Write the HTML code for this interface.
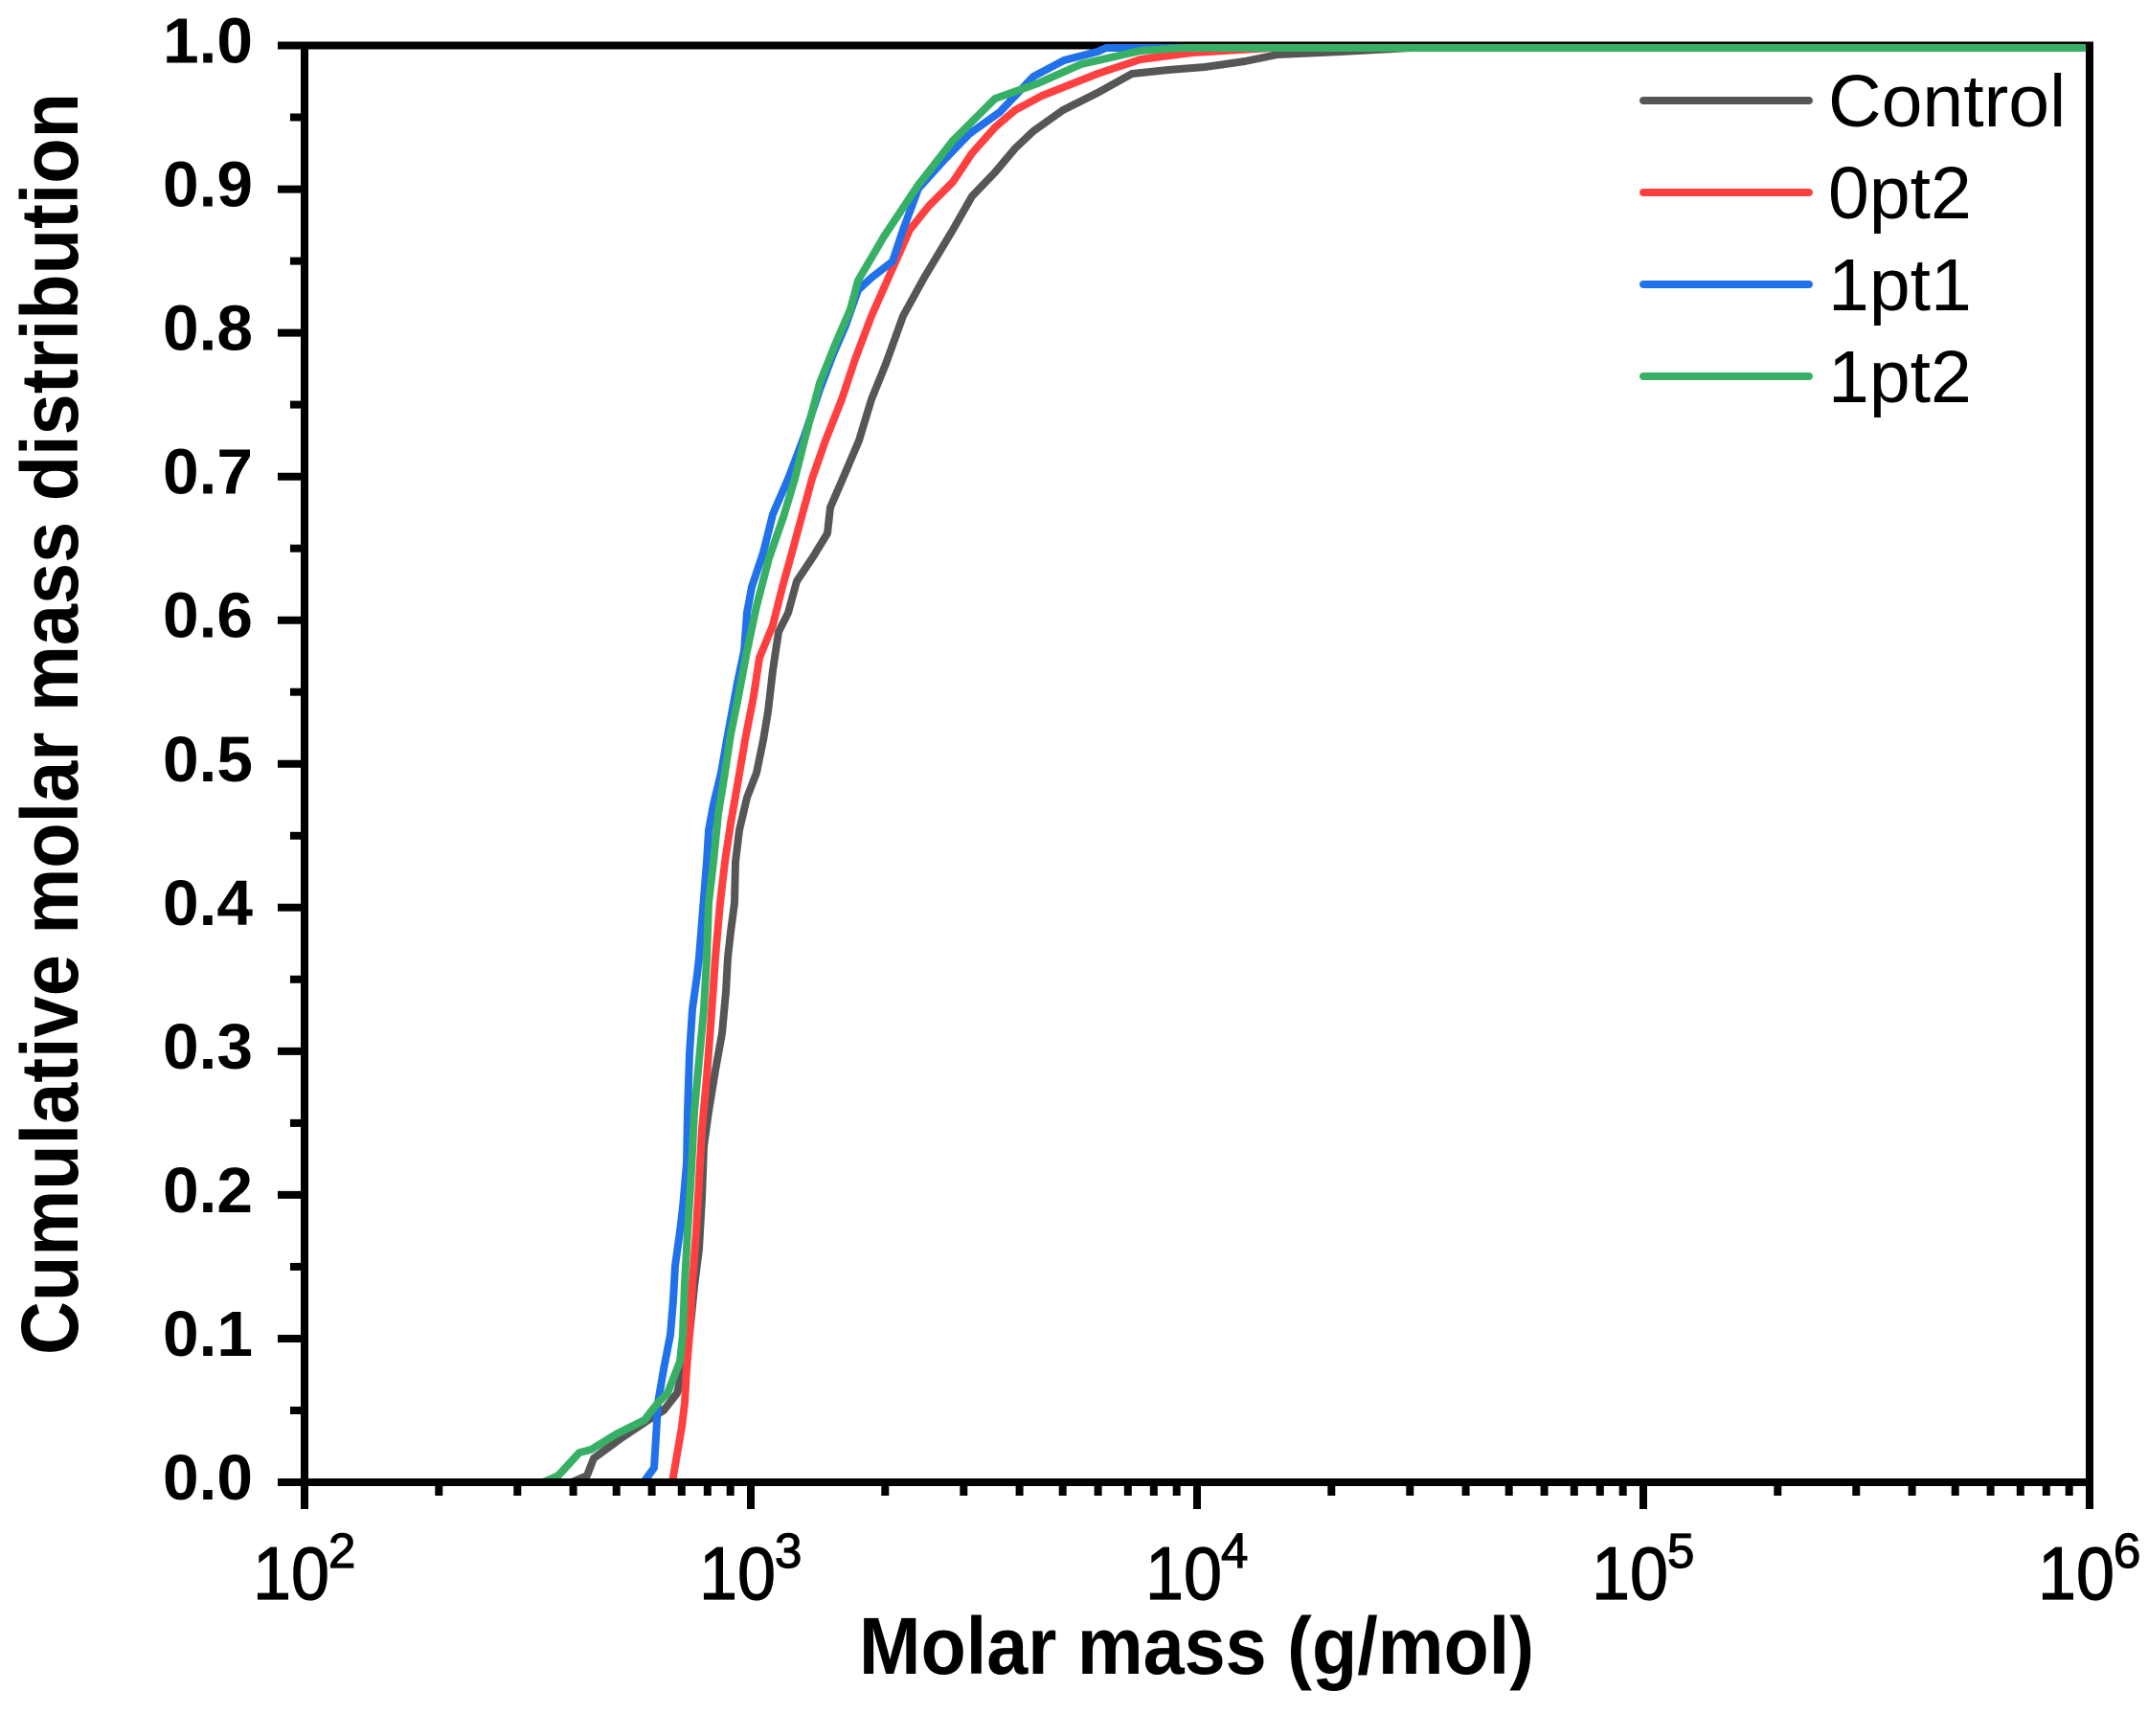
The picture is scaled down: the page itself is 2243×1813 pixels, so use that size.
<!DOCTYPE html>
<html>
<head>
<meta charset="utf-8">
<style>
html,body{margin:0;padding:0;background:#fff;}
svg{display:block;}
</style>
</head>
<body>
<svg width="2243" height="1813" viewBox="0 0 2243 1813" xmlns="http://www.w3.org/2000/svg">
<rect width="2243" height="1813" fill="#fff"/>

<!-- top axis line (under data) -->
<line x1="290" y1="47.5" x2="2186" y2="47.5" stroke="#000" stroke-width="8"/>

<!-- data -->
<g fill="none" stroke-width="8" stroke-linejoin="round" stroke-linecap="butt">
<polyline stroke="#565656" points="597,1548 613,1541 620,1523 650,1501 677,1483 693,1473 707,1455 713,1430 720,1394 725,1344 730,1304 733,1251 735,1197 740,1161 747,1118 754,1079 758,1036 760,1000 763,973 767,943 768,900 772,867 780,833 790,807 797,773 802,743 807,700 813,660 823,640 832,607 850,580 864,557 867,530 880,500 897,460 910,417 925,380 943,330 965,290 995,240 1015,205 1039,180 1060,155 1079,137 1110,115 1146,97 1182,77 1220,73 1258,70 1300,64 1334,57 1400,54 1473,50 2182,50"/>
<polyline stroke="#ff4040" points="702,1548 707,1519 712,1490 715,1465 717,1430 720,1394 723,1340 727,1286 730,1233 733,1179 738,1125 742,1072 745,1030 747,1000 752,943 757,900 763,860 770,820 778,773 787,727 793,687 807,653 817,613 827,577 837,540 848,500 862,460 879,417 893,375 910,330 930,285 950,240 970,215 995,190 1015,160 1039,133 1060,115 1088,100 1146,77 1191,62 1245,55 1329,50 2182,50"/>
<polyline stroke="#2171ea" points="672,1548 683,1533 685,1501 687,1465 693,1430 700,1394 703,1358 705,1322 710,1286 713,1261 717,1215 718,1161 720,1100 723,1054 728,1018 730,1000 735,937 738,900 740,867 745,840 753,807 760,767 770,713 777,680 780,640 785,613 797,577 807,537 823,500 840,455 856,407 870,370 883,340 896,303 910,290 932,273 943,240 959,197 986,167 1012,140 1044,117 1079,80 1111,63 1146,54 1155,50 2182,50"/>
<polyline stroke="#37b066" points="567,1548 583,1541 605,1517 617,1514 643,1498 673,1483 687,1465 697,1455 710,1422 713,1394 715,1340 718,1286 722,1222 725,1161 730,1107 735,1054 738,1000 740,943 745,900 750,850 757,807 763,767 770,733 780,680 790,633 803,583 818,540 830,500 840,460 856,400 872,360 888,323 896,293 923,247 959,193 995,147 1039,103 1084,87 1129,67 1191,53 1236,50 2182,50"/>
</g>

<!-- axes -->
<g stroke="#000" stroke-width="8" fill="none">
<line x1="318" y1="43.5" x2="318" y2="1576"/>
<line x1="290" y1="1548" x2="2186" y2="1548"/>
<line x1="2182" y1="43.5" x2="2182" y2="1576"/>
<line x1="290" y1="47.5" x2="318" y2="47.5"/>
<line x1="290" y1="197.6" x2="318" y2="197.6"/>
<line x1="290" y1="347.6" x2="318" y2="347.6"/>
<line x1="290" y1="497.7" x2="318" y2="497.7"/>
<line x1="290" y1="647.7" x2="318" y2="647.7"/>
<line x1="290" y1="797.8" x2="318" y2="797.8"/>
<line x1="290" y1="947.8" x2="318" y2="947.8"/>
<line x1="290" y1="1097.9" x2="318" y2="1097.9"/>
<line x1="290" y1="1247.9" x2="318" y2="1247.9"/>
<line x1="290" y1="1398" x2="318" y2="1398"/>
<line x1="290" y1="1548" x2="318" y2="1548"/>
<line x1="303" y1="122.5" x2="318" y2="122.5"/>
<line x1="303" y1="272.6" x2="318" y2="272.6"/>
<line x1="303" y1="422.6" x2="318" y2="422.6"/>
<line x1="303" y1="572.7" x2="318" y2="572.7"/>
<line x1="303" y1="722.7" x2="318" y2="722.7"/>
<line x1="303" y1="872.8" x2="318" y2="872.8"/>
<line x1="303" y1="1022.8" x2="318" y2="1022.8"/>
<line x1="303" y1="1172.9" x2="318" y2="1172.9"/>
<line x1="303" y1="1322.9" x2="318" y2="1322.9"/>
<line x1="303" y1="1473" x2="318" y2="1473"/>
<line x1="784" y1="1548" x2="784" y2="1576"/>
<line x1="1250" y1="1548" x2="1250" y2="1576"/>
<line x1="1716" y1="1548" x2="1716" y2="1576"/>
</g>
<g stroke="#000" stroke-width="8">
<line x1="458.3" y1="1548" x2="458.3" y2="1562"/>
<line x1="540.3" y1="1548" x2="540.3" y2="1562"/>
<line x1="598.6" y1="1548" x2="598.6" y2="1562"/>
<line x1="643.7" y1="1548" x2="643.7" y2="1562"/>
<line x1="680.6" y1="1548" x2="680.6" y2="1562"/>
<line x1="711.8" y1="1548" x2="711.8" y2="1562"/>
<line x1="738.8" y1="1548" x2="738.8" y2="1562"/>
<line x1="762.7" y1="1548" x2="762.7" y2="1562"/>
<line x1="924.3" y1="1548" x2="924.3" y2="1562"/>
<line x1="1006.3" y1="1548" x2="1006.3" y2="1562"/>
<line x1="1064.6" y1="1548" x2="1064.6" y2="1562"/>
<line x1="1109.7" y1="1548" x2="1109.7" y2="1562"/>
<line x1="1146.6" y1="1548" x2="1146.6" y2="1562"/>
<line x1="1177.8" y1="1548" x2="1177.8" y2="1562"/>
<line x1="1204.8" y1="1548" x2="1204.8" y2="1562"/>
<line x1="1228.7" y1="1548" x2="1228.7" y2="1562"/>
<line x1="1390.3" y1="1548" x2="1390.3" y2="1562"/>
<line x1="1472.3" y1="1548" x2="1472.3" y2="1562"/>
<line x1="1530.6" y1="1548" x2="1530.6" y2="1562"/>
<line x1="1575.7" y1="1548" x2="1575.7" y2="1562"/>
<line x1="1612.6" y1="1548" x2="1612.6" y2="1562"/>
<line x1="1643.8" y1="1548" x2="1643.8" y2="1562"/>
<line x1="1670.8" y1="1548" x2="1670.8" y2="1562"/>
<line x1="1694.7" y1="1548" x2="1694.7" y2="1562"/>
<line x1="1856.3" y1="1548" x2="1856.3" y2="1562"/>
<line x1="1938.3" y1="1548" x2="1938.3" y2="1562"/>
<line x1="1996.6" y1="1548" x2="1996.6" y2="1562"/>
<line x1="2041.7" y1="1548" x2="2041.7" y2="1562"/>
<line x1="2078.6" y1="1548" x2="2078.6" y2="1562"/>
<line x1="2109.8" y1="1548" x2="2109.8" y2="1562"/>
<line x1="2136.8" y1="1548" x2="2136.8" y2="1562"/>
<line x1="2160.7" y1="1548" x2="2160.7" y2="1562"/>
</g>

<!-- y tick labels -->
<g font-family="'Liberation Sans', Arial, sans-serif" font-weight="bold" font-size="67" fill="#000">
<text x="170" y="65.5" textLength="94" lengthAdjust="spacingAndGlyphs">1.0</text>
<text x="170" y="215.6" textLength="94" lengthAdjust="spacingAndGlyphs">0.9</text>
<text x="170" y="365.6" textLength="94" lengthAdjust="spacingAndGlyphs">0.8</text>
<text x="170" y="515.7" textLength="94" lengthAdjust="spacingAndGlyphs">0.7</text>
<text x="170" y="665.7" textLength="94" lengthAdjust="spacingAndGlyphs">0.6</text>
<text x="170" y="815.8" textLength="94" lengthAdjust="spacingAndGlyphs">0.5</text>
<text x="170" y="965.8" textLength="94" lengthAdjust="spacingAndGlyphs">0.4</text>
<text x="170" y="1115.9" textLength="94" lengthAdjust="spacingAndGlyphs">0.3</text>
<text x="170" y="1265.9" textLength="94" lengthAdjust="spacingAndGlyphs">0.2</text>
<text x="170" y="1416" textLength="94" lengthAdjust="spacingAndGlyphs">0.1</text>
<text x="170" y="1566" textLength="94" lengthAdjust="spacingAndGlyphs">0.0</text>
</g>

<!-- x tick labels -->
<g font-family="'Liberation Sans', Arial, sans-serif" fill="#000" stroke="#000" stroke-width="1.2">
<text x="264" y="1670" font-size="78" textLength="80" lengthAdjust="spacingAndGlyphs">10</text>
<text x="343" y="1637" font-size="51">2</text>
<text x="730" y="1670" font-size="78" textLength="80" lengthAdjust="spacingAndGlyphs">10</text>
<text x="809" y="1637" font-size="51">3</text>
<text x="1196" y="1670" font-size="78" textLength="80" lengthAdjust="spacingAndGlyphs">10</text>
<text x="1275" y="1637" font-size="51">4</text>
<text x="1662" y="1670" font-size="78" textLength="80" lengthAdjust="spacingAndGlyphs">10</text>
<text x="1741" y="1637" font-size="51">5</text>
<text x="2128" y="1670" font-size="78" textLength="80" lengthAdjust="spacingAndGlyphs">10</text>
<text x="2207" y="1637" font-size="51">6</text>
</g>

<!-- axis titles -->
<text x="897" y="1748" font-family="'Liberation Sans', Arial, sans-serif" font-weight="bold" font-size="84" textLength="705" lengthAdjust="spacingAndGlyphs" fill="#000">Molar mass (g/mol)</text>
<text transform="translate(81,1415) rotate(-90)" x="0" y="0" font-family="'Liberation Sans', Arial, sans-serif" font-weight="bold" font-size="84" textLength="1318" lengthAdjust="spacingAndGlyphs" fill="#000">Cumulative molar mass distribution</text>

<!-- legend -->
<g stroke-width="8" stroke-linecap="round">
<line x1="1716" y1="105" x2="1889" y2="105" stroke="#565656"/>
<line x1="1716" y1="201" x2="1889" y2="201" stroke="#ff4040"/>
<line x1="1716" y1="297" x2="1889" y2="297" stroke="#2171ea"/>
<line x1="1716" y1="393" x2="1889" y2="393" stroke="#37b066"/>
</g>
<g font-family="'Liberation Sans', Arial, sans-serif" font-size="77" fill="#000">
<text x="1909" y="132">Control</text>
<text x="1909" y="228">0pt2</text>
<text x="1909" y="324">1pt1</text>
<text x="1909" y="420">1pt2</text>
</g>
</svg>
</body>
</html>
